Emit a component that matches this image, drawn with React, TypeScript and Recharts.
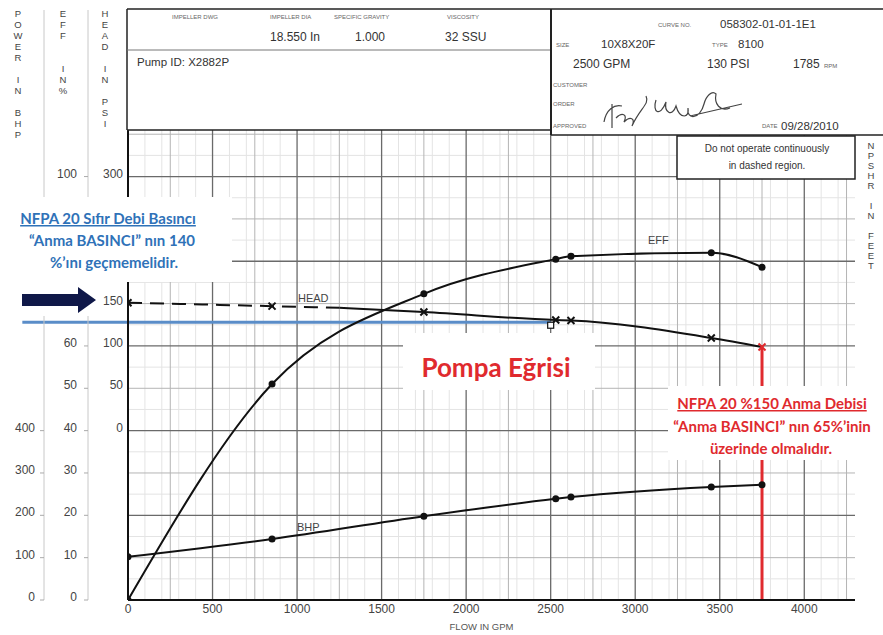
import React from 'react';
import { ComposedChart, Line, XAxis, YAxis, ReferenceLine, ReferenceDot } from 'recharts';

// pump curve readings (flow in GPM)
const effFlow = [0, 852, 1750, 2530, 2620, 3450, 3750];
const effPct = [0, 51, 72.3, 80.5, 81.2, 82, 78.6];

const bhpFlow = [0, 852, 1750, 2530, 2620, 3450, 3750];
const bhpPower = [102, 144, 198, 239, 243, 267, 272];

const headDashedFlow = [0, 852, 1250];
const headDashedPsi = [151, 147, 145];
const headFlow = [1250, 1750, 2530, 2620, 3450, 3750];
const headPsi = [145, 140, 130.6, 130, 109.4, 98.8];

const flowTicks = [0, 500, 1000, 1500, 2000, 2500, 3000, 3500, 4000];
const effTicks = [0, 10, 20, 30, 40, 50, 60, 100];
const headTicks = [0, 50, 100, 150, 300];
const bhpTicks = [0, 100, 200, 300, 400];

const ratedFlow = 2500;
const ratedPsi = 128;
const maxFlow = 3750;
const headSplit = 1250;

const effData = effFlow.map((gpm, i) => ({ gpm, eff: effPct[i] }));
const bhpData = bhpFlow.map((gpm, i) => ({ gpm, bhp: bhpPower[i] }));
const headDashedData = headDashedFlow.map((gpm, i) => ({ gpm, head: headDashedPsi[i] }));
const headData = headFlow.map((gpm, i) => ({ gpm, head: headPsi[i] }));

// axis ids: recharts stacks left axes by id, first one next to the plot
const HEAD = 'y1head';
const EFF = 'y2eff';
const BHP = 'y3bhp';

// grid
const range = (from: number, to: number, step: number) =>
  Array.from({ length: Math.floor((to - from) / step) + 1 }, (_, i) => from + i * step);
const flowMajor = range(500, 4000, 500);
const flowMid = range(250, 4250, 500);
const flowMinor = range(100, 4200, 100).filter((v) => v % 500 !== 0);
const effMajor = range(20, 100, 20);
const effMid = range(10, 110, 20);
const effMinor = range(5, 105, 10);

const FONT = '"Liberation Sans", Arial, sans-serif';
const LABEL = '"Lato", "Open Sans", sans-serif';
const RED = '#e02a2e';
const BLUE = '#2f72b8';

const Dot = (p: any) => <circle key={`d${p.index}`} cx={p.cx} cy={p.cy} r={3.5} fill="#111" />;

const HeadMark = (p: any) => {
  const { cx, cy, payload, index } = p;
  if (payload.gpm === headSplit) return <g key={`h${index}`} />;
  const c = payload.gpm === maxFlow ? RED : '#111';
  const s = 3.5;
  return (
    <path
      key={`h${index}`}
      d={`M${cx - s},${cy - s}L${cx + s},${cy + s}M${cx + s},${cy - s}L${cx - s},${cy + s}`}
      stroke={c}
      strokeWidth={2}
    />
  );
};

const YTick = (p: any) => (
  <text x={p.x} y={p.y} dy={1} textAnchor="end" fill="#444" fontSize={12} fontFamily={FONT}>
    {p.payload.value}
  </text>
);

const XTick = (p: any) => (
  <text x={p.x} y={p.y} dy={10} textAnchor="middle" fill="#444" fontSize={12} fontFamily={FONT}>
    {p.payload.value}
  </text>
);

const VLetters = ({ x, y, step, text }: { x: number; y: number; step: number; text: string }) => (
  <g>
    {text.split('').map((ch, i) =>
      ch === ' ' ? null : (
        <text key={i} x={x} y={y + i * step} textAnchor="middle" fontSize={9.5} fill="#444" fontFamily={FONT}>
          {ch}
        </text>
      )
    )}
  </g>
);

const Small = ({ x, y, children }: any) => (
  <text x={x} y={y} fontSize={6} fill="#666" fontFamily={FONT}>
    {children}
  </text>
);

const Val = ({ x, y, children, size = 12 }: any) => (
  <text x={x} y={y} fontSize={size} fill="#333" fontFamily={FONT}>
    {children}
  </text>
);

const Note = ({ x, y, color, underline, children }: any) => (
  <text
    x={x}
    y={y}
    textAnchor="middle"
    fontSize={15}
    fontWeight="bold"
    fill={color}
    fontFamily={LABEL}
    textDecoration={underline ? 'underline' : undefined}
  >
    {children}
  </text>
);

const Overlay = () => (
  <svg width={883} height={635} style={{ position: 'absolute', left: 0, top: 0, pointerEvents: 'none' }}>
    {/* axis titles */}
    <line x1={44} y1={10} x2={44} y2={130} stroke="#c8c8c8" />
    <line x1={88} y1={10} x2={88} y2={130} stroke="#c8c8c8" />
    <VLetters x={18} y={17} step={11} text="POWER IN BHP" />
    <VLetters x={63} y={17} step={11} text="EFF  IN%" />
    <VLetters x={105} y={17} step={11} text="HEAD IN PSI" />
    <VLetters x={871} y={149} step={10} text="NPSHR IN FEET" />

    {/* header block */}
    <rect x={127} y={9} width={760} height={121} fill="#fff" />
    <rect x={551} y={9} width={340} height={126} fill="#fff" />
    <line x1={127} y1={9} x2={883} y2={9} stroke="#222" strokeWidth={1.5} />
    <line x1={127} y1={9} x2={127} y2={130} stroke="#222" strokeWidth={1.5} />
    <line x1={127} y1={50} x2={551} y2={50} stroke="#777" />
    <line x1={127} y1={130} x2={551} y2={130} stroke="#222" strokeWidth={1.5} />
    <line x1={551} y1={9} x2={551} y2={135} stroke="#222" strokeWidth={2} />
    <line x1={551} y1={135} x2={883} y2={135} stroke="#222" strokeWidth={1.5} />
    <Small x={172} y={19}>IMPELLER DWG</Small>
    <Small x={270} y={19}>IMPELLER DIA</Small>
    <Small x={334} y={19}>SPECIFIC GRAVITY</Small>
    <Small x={447} y={19}>VISCOSITY</Small>
    <Val x={270} y={41}>18.550 In</Val>
    <Val x={355} y={41}>1.000</Val>
    <Val x={445} y={41}>32 SSU</Val>
    <Val x={137} y={66} size={11.5}>Pump ID: X2882P</Val>
    <Small x={658} y={27}>CURVE NO.</Small>
    <Val x={720} y={28} size={11.5}>058302-01-01-1E1</Val>
    <Small x={556} y={47}>SIZE</Small>
    <Val x={601} y={48} size={11.5}>10X8X20F</Val>
    <Small x={712} y={47}>TYPE</Small>
    <Val x={738} y={48} size={11.5}>8100</Val>
    <Val x={573} y={68}>2500 GPM</Val>
    <Val x={707} y={68}>130 PSI</Val>
    <Val x={793} y={68}>1785</Val>
    <Small x={824} y={68}>RPM</Small>
    <Small x={553} y={87}>CUSTOMER</Small>
    <Small x={553} y={106}>ORDER</Small>
    <Small x={553} y={128}>APPROVED</Small>
    <path
      d="M604,122 C606,110 614,104 622,106 M612,104 L612,128 M616,118 C622,112 628,114 624,122 C630,116 636,118 632,126 C640,108 650,104 646,96 M656,100 C652,112 660,118 666,102 C664,112 672,118 676,106 C680,120 690,118 688,108 C686,120 700,120 704,104 C706,96 712,90 716,94 C714,104 720,112 730,108 M690,116 L742,104"
      stroke="#444"
      strokeWidth={1.2}
      fill="none"
    />
    <Small x={762} y={128}>DATE</Small>
    <Val x={781} y={130} size={11.5}>09/28/2010</Val>

    <rect x={677} y={136} width={178} height={43} fill="#fff" stroke="#222" strokeWidth={1.5} />
    <text x={767} y={152} textAnchor="middle" fontSize={10} fill="#333" fontFamily={FONT}>
      Do not operate continuously
    </text>
    <text x={767} y={169} textAnchor="middle" fontSize={10} fill="#333" fontFamily={FONT}>
      in dashed region.
    </text>

    {/* curve labels */}
    <text x={648} y={244} fontSize={11} fill="#444" fontFamily={FONT}>EFF</text>
    <text x={298} y={302} fontSize={11} fill="#444" fontFamily={FONT}>HEAD</text>
    <text x={297} y={531} fontSize={11} fill="#444" fontFamily={FONT}>BHP</text>

    {/* NFPA zero flow note */}
    <rect x={0} y={197} width={232} height={85} fill="#fff" />
    <rect x={0} y={282} width={96} height={34} fill="#fff" />
    <Note x={108} y={224} color={BLUE} underline>NFPA 20 Sıfır Debi Basıncı</Note>
    <Note x={112} y={246} color={BLUE}>“Anma BASINCI” nın 140</Note>
    <Note x={114} y={268} color={BLUE}>%’ını geçmemelidir.</Note>
    <polygon points="22,294 78,294 78,287 96,300 78,313 78,306 22,306" fill="#0f1848" />

    {/* pump curve title */}
    <rect x={403} y={333} width={192} height={57} fill="#fff" />
    <text x={496} y={377} textAnchor="middle" fontSize={26} fontWeight="bold" fill={RED} fontFamily={LABEL}>
      Pompa Eğrisi
    </text>

    {/* NFPA 150% flow note */}
    <rect x={668} y={386} width={215} height={74} fill="#fff" />
    <Note x={772} y={409} color={RED} underline>NFPA 20  %150 Anma Debisi</Note>
    <Note x={772} y={432} color={RED}>“Anma BASINCI” nın 65%’inin</Note>
    <Note x={771} y={454} color={RED}>üzerinde olmalıdır.</Note>
  </svg>
);

export default function App() {
  return (
    <div style={{ position: 'absolute', left: 0, top: 0, width: 883, height: 635, background: '#fff' }}>
      <ComposedChart width={883} height={635} margin={{ top: 130, right: 28, bottom: 5, left: 0 }}>
        <XAxis
          type="number"
          dataKey="gpm"
          domain={[0, 4300]}
          ticks={flowTicks}
          allowDataOverflow
          height={30}
          tick={<XTick />}
          tickLine={false}
          tickSize={0}
          tickMargin={3}
          axisLine={{ stroke: '#111', strokeWidth: 2 }}
          label={{ value: 'FLOW IN GPM', position: 'insideBottom', offset: 0, dx: -10, fontSize: 9.5, fill: '#555', fontFamily: FONT }}
        />
        <YAxis
          yAxisId={HEAD}
          type="number"
          domain={[-200, 355]}
          ticks={headTicks}
          width={40}
          tick={<YTick />}
          tickLine={false}
          tickSize={0}
          tickMargin={5}
          axisLine={{ stroke: '#111', strokeWidth: 2 }}
          allowDataOverflow
        />
        <YAxis
          yAxisId={EFF}
          type="number"
          domain={[0, 111]}
          ticks={effTicks}
          width={44}
          tick={<YTick />}
          tickLine={{ stroke: '#aaa' }}
          tickSize={4}
          tickMargin={7}
          axisLine={{ stroke: '#c8c8c8' }}
          allowDataOverflow
        />
        <YAxis
          yAxisId={BHP}
          type="number"
          domain={[0, 1110]}
          ticks={bhpTicks}
          width={44}
          tick={<YTick />}
          tickLine={{ stroke: '#aaa' }}
          tickSize={4}
          tickMargin={5}
          axisLine={{ stroke: '#c8c8c8' }}
          allowDataOverflow
        />

        {flowMinor.map((v) => (
          <ReferenceLine key={`fm${v}`} x={v} yAxisId={EFF} stroke="#e4e4e4" />
        ))}
        {effMinor.map((v) => (
          <ReferenceLine key={`em${v}`} y={v} yAxisId={EFF} stroke="#e4e4e4" />
        ))}
        {flowMid.map((v) => (
          <ReferenceLine key={`fd${v}`} x={v} yAxisId={EFF} stroke="#b4b4b4" />
        ))}
        {effMid.map((v) => (
          <ReferenceLine key={`ed${v}`} y={v} yAxisId={EFF} stroke="#b4b4b4" />
        ))}
        {flowMajor.map((v) => (
          <ReferenceLine key={`fj${v}`} x={v} yAxisId={EFF} stroke="#6a6a6a" strokeWidth={1.3} />
        ))}
        {effMajor.map((v) => (
          <ReferenceLine key={`ej${v}`} y={v} yAxisId={EFF} stroke="#6a6a6a" strokeWidth={1.3} />
        ))}

        <ReferenceLine
          yAxisId={HEAD}
          segment={[{ x: maxFlow, y: headPsi[headPsi.length - 1] }, { x: maxFlow, y: -200 }]}
          stroke={RED}
          strokeWidth={3}
        />
        <ReferenceLine
          yAxisId={HEAD}
          segment={[{ x: -625, y: ratedPsi }, { x: ratedFlow, y: ratedPsi }]}
          stroke="#5a8dc8"
          strokeWidth={3}
          ifOverflow="visible"
        />

        <Line
          data={bhpData}
          yAxisId={BHP}
          dataKey="bhp"
          type="monotone"
          stroke="#111"
          strokeWidth={2}
          dot={Dot}
          isAnimationActive={false}
        />
        <Line
          data={effData}
          yAxisId={EFF}
          dataKey="eff"
          type="monotone"
          stroke="#111"
          strokeWidth={2}
          dot={Dot}
          isAnimationActive={false}
        />
        <Line
          data={headDashedData}
          yAxisId={HEAD}
          dataKey="head"
          type="monotone"
          stroke="#111"
          strokeWidth={2}
          strokeDasharray="14 8"
          dot={HeadMark}
          isAnimationActive={false}
        />
        <Line
          data={headData}
          yAxisId={HEAD}
          dataKey="head"
          type="monotone"
          stroke="#111"
          strokeWidth={2}
          dot={HeadMark}
          isAnimationActive={false}
        />
        <ReferenceDot
          yAxisId={HEAD}
          x={ratedFlow}
          y={ratedPsi}
          r={3}
          shape={(p: any) => (
            <rect x={p.cx - 3} y={p.cy} width={6} height={6} fill="#fff" stroke="#111" strokeWidth={1.2} />
          )}
        />
      </ComposedChart>
      <Overlay />
    </div>
  );
}
